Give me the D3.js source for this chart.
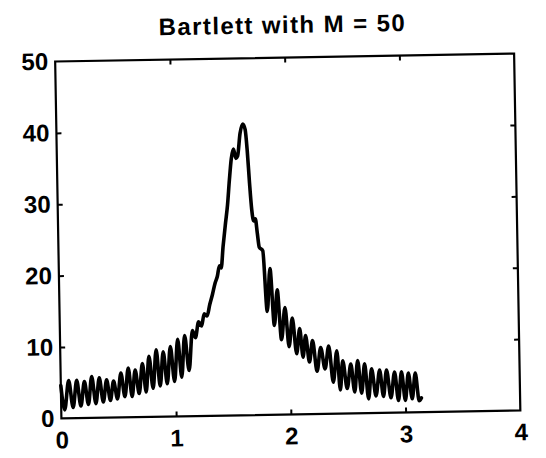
<!DOCTYPE html>
<html>
<head>
<meta charset="utf-8">
<script src="https://cdn.jsdelivr.net/npm/d3@7"></script>
<style>
  html, body { margin: 0; padding: 0; background: #fff; }
  svg { display: block; }
</style>
</head>
<body>
<div id="chart"></div>
<script>
// ---- data ----
const titleText = "Bartlett with M = 50";
const xTicks = [0, 1, 2, 3, 4];
const yTicks = [0, 10, 20, 30, 40, 50];
const xDomain = [0, 4];
const yDomain = [0, 50];

const freq = [
  0.000, 0.030, 0.069, 0.104, 0.139, 0.172, 0.206, 0.238, 0.270, 0.303,
  0.336, 0.368, 0.400, 0.430, 0.460, 0.492, 0.525, 0.557, 0.590, 0.620,
  0.650, 0.682, 0.714, 0.743, 0.772, 0.804, 0.836, 0.866, 0.897, 0.928,
  0.960, 0.992, 1.025, 1.055, 1.086, 1.120, 1.155, 1.180, 1.210, 1.235,
  1.260, 1.285, 1.310, 1.335, 1.360, 1.380, 1.400, 1.415, 1.435, 1.460,
  1.480, 1.500, 1.520, 1.540, 1.560, 1.575, 1.600, 1.625, 1.645, 1.660,
  1.675, 1.690, 1.705, 1.720, 1.735, 1.750, 1.780, 1.810, 1.840, 1.870,
  1.900, 1.930, 1.965, 1.995, 2.027, 2.060, 2.090, 2.115, 2.140, 2.170,
  2.200, 2.235, 2.270, 2.305, 2.340, 2.375, 2.410, 2.435, 2.460, 2.495,
  2.530, 2.560, 2.590, 2.620, 2.650, 2.680, 2.710, 2.745, 2.780, 2.810,
  2.840, 2.875, 2.910, 2.940, 2.970, 3.000, 3.030, 3.060, 3.090, 3.120,
  3.140
];
const power = [
  4.6, 1.2, 5.3, 1.5, 5.3, 1.7, 5.1, 1.9, 5.8, 2.0,
  5.6, 2.2, 5.3, 2.4, 5.1, 2.6, 6.2, 2.9, 6.9, 2.9,
  6.6, 3.3, 7.5, 3.5, 8.5, 4.0, 9.4, 4.3, 9.1, 4.6,
  9.8, 4.9, 10.8, 5.5, 11.3, 6.4, 12.0, 11.0, 13.2, 12.6,
  14.3, 14.0, 15.6, 17.0, 18.6, 19.5, 21.0, 20.7, 23.7, 27.0,
  29.5, 33.0, 36.0, 37.3, 36.0, 36.3, 39.5, 40.8, 40.0, 37.0,
  32.5, 28.8, 27.2, 27.5, 25.5, 23.5, 23.0, 14.5, 20.5, 12.5,
  17.5, 10.5, 15.0, 9.5, 13.5, 8.5, 12.0, 8.0, 11.0, 7.3,
  10.3, 6.0, 9.3, 6.3, 9.5, 4.4, 8.8, 3.3, 7.4, 3.5,
  6.9, 3.0, 7.4, 2.8, 6.9, 2.0, 6.2, 2.4, 6.0, 2.3,
  6.0, 2.1, 5.7, 1.7, 5.7, 1.7, 5.5, 1.9, 5.5, 1.6,
  2.0
];

// ---- layout ----
const W = 546, H = 458;
const box = { left: 58.25, right: 517.25, top: 57.5, bottom: 414.5 };
const rot = -1.0, rcx = 287.75, rcy = 236;

const svg = d3.select("#chart").append("svg")
  .attr("width", W).attr("height", H)
  .style("font-family", "'Liberation Sans', Arial, Helvetica, sans-serif");

const g = svg.append("g").attr("transform", `rotate(${rot},${rcx},${rcy})`);

const x = d3.scaleLinear().domain(xDomain).range([box.left, box.right]);
const y = d3.scaleLinear().domain(yDomain).range([box.bottom, box.top]);

// title
g.append("text")
  .attr("x", 286).attr("y", 33)
  .attr("text-anchor", "middle")
  .style("font-size", "24px").style("font-weight", "bold")
  .style("letter-spacing", "1.4px")
  .text(titleText);

// data line
const pts = freq.map((f, i) => [f, power[i]]);
g.append("path")
  .datum(pts)
  .attr("fill", "none")
  .attr("stroke", "#000")
  .attr("stroke-width", 3.6)
  .attr("stroke-linejoin", "round")
  .attr("stroke-linecap", "round")
  .attr("d", d3.line().x(d => x(d[0])).y(d => y(d[1])).curve(d3.curveMonotoneX));

// axes
function styleAxis(sel, showText) {
  sel.select(".domain").remove();
  sel.selectAll(".tick line").attr("stroke", "#000").attr("stroke-width", 2);
  sel.selectAll(".tick text")
    .style("font-size", "24px").style("font-weight", "bold").attr("fill", "#000");
  if (!showText) sel.selectAll(".tick text").remove();
}

const innerTicksX = xTicks.filter(v => v > xDomain[0] && v < xDomain[1]);
const innerTicksY = yTicks.filter(v => v > yDomain[0] && v < yDomain[1]);

const gxb = g.append("g").attr("transform", `translate(0,${box.bottom})`)
  .call(d3.axisBottom(x).tickValues(xTicks).tickFormat(d3.format("d"))
    .tickSizeInner(-5).tickSizeOuter(0).tickPadding(13));
styleAxis(gxb, true);
gxb.selectAll(".tick").filter(d => d === 0 || d === 4).select("line").remove();

const gxt = g.append("g").attr("transform", `translate(0,${box.top})`)
  .call(d3.axisTop(x).tickValues(innerTicksX).tickSizeInner(-5).tickSizeOuter(0));
styleAxis(gxt, false);

const gyl = g.append("g").attr("transform", `translate(${box.left},0)`)
  .call(d3.axisLeft(y).tickValues(yTicks).tickFormat(d3.format("d"))
    .tickSizeInner(-5).tickSizeOuter(0).tickPadding(7));
styleAxis(gyl, true);
gyl.selectAll(".tick").filter(d => d === 0 || d === 50).select("line").remove();

const gyr = g.append("g").attr("transform", `translate(${box.right},0)`)
  .call(d3.axisRight(y).tickValues(innerTicksY).tickSizeInner(-5).tickSizeOuter(0));
styleAxis(gyr, false);

// frame
g.append("rect")
  .attr("x", x(xDomain[0])).attr("y", y(yDomain[1]))
  .attr("width", x(xDomain[1]) - x(xDomain[0]))
  .attr("height", y(yDomain[0]) - y(yDomain[1]))
  .attr("fill", "none").attr("stroke", "#000").attr("stroke-width", 2.2);
</script>
</body>
</html>
